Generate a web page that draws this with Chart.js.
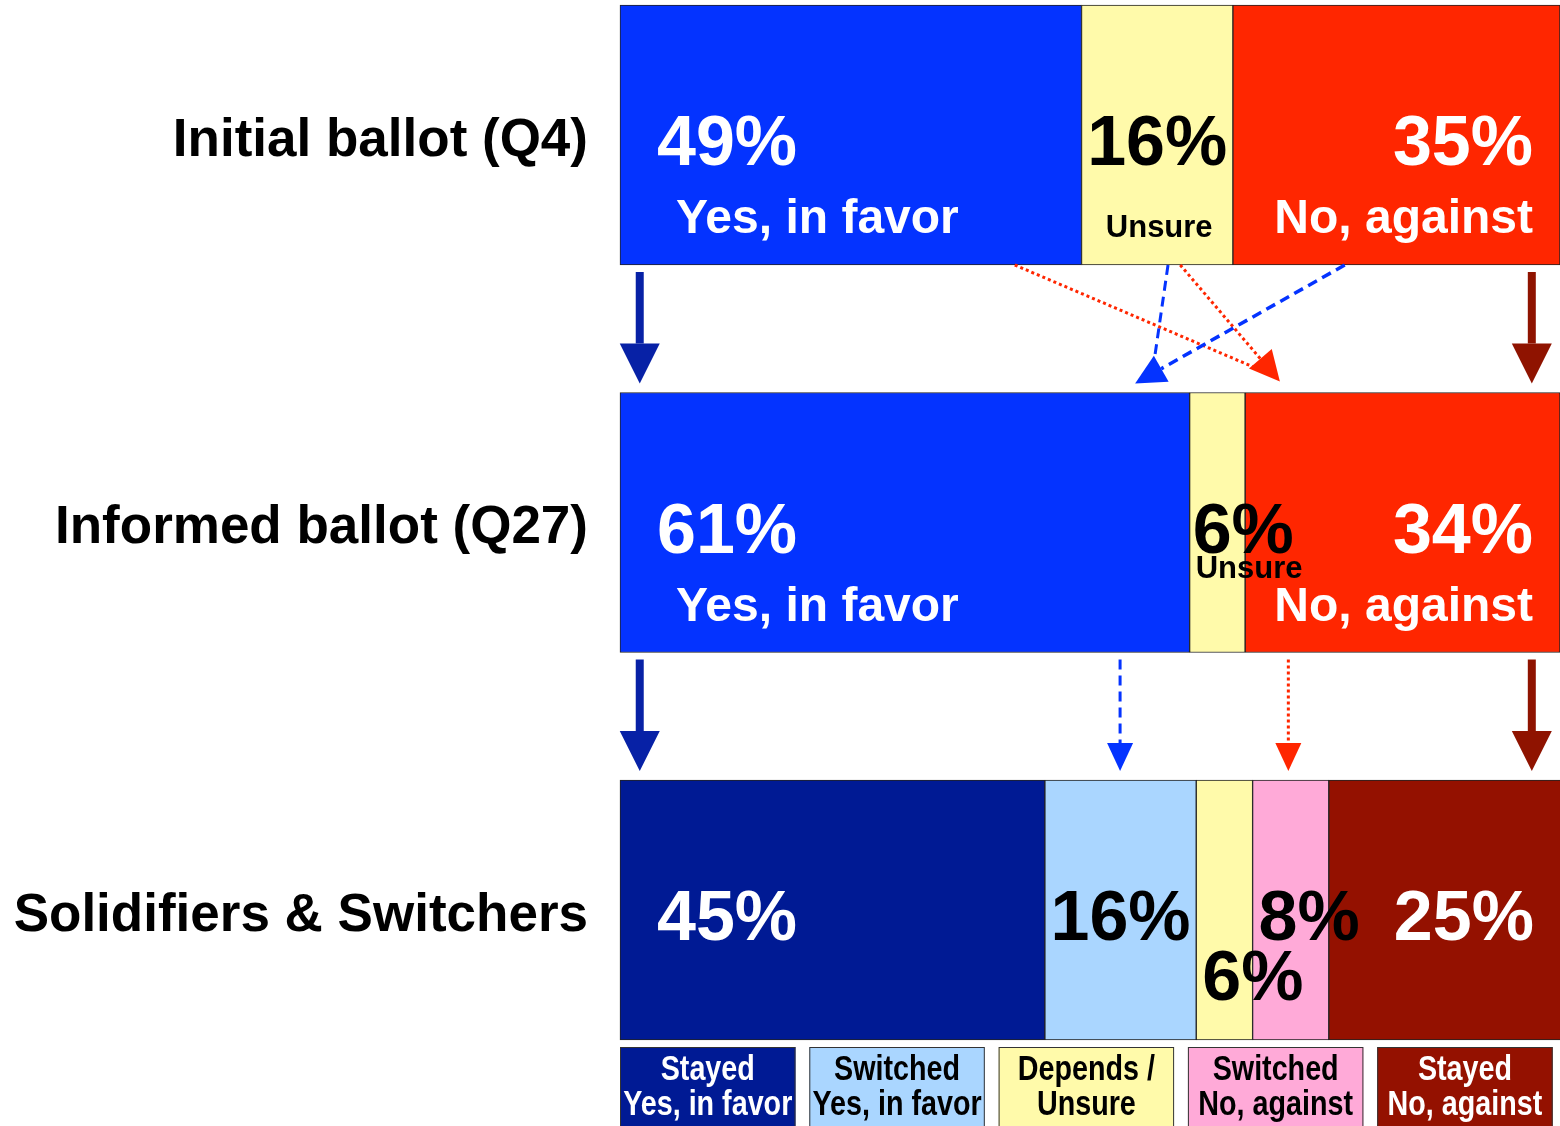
<!DOCTYPE html>
<html>
<head>
<meta charset="utf-8">
<script src="https://cdn.jsdelivr.net/npm/chart.js@4.4.1/dist/chart.umd.min.js"></script>
<style>
  html, body { margin: 0; padding: 0; background: #fff; }
  #wrap { width: 1560px; height: 1126px; position: relative; }
</style>
</head>
<body>
<div id="wrap"><canvas id="ballot"></canvas></div>
<script>
// ---------- DATA ----------
const categories = ['Initial ballot (Q4)', 'Informed ballot (Q27)', 'Solidifiers & Switchers'];

// rows 1 and 2
const yesValues = [49.1, 60.6, null];
const unsureValues = [16.1, 5.9, null];
const noValues = [34.8, 33.5, null];
const yesLabels = ['49%', '61%', null];
const unsureLabels = ['16%', '6%', null];
const noLabels = ['35%', '34%', null];

// row 3
const stayedYesValues = [null, null, 45.2];
const switchedYesValues = [null, null, 16.1];
const dependsValues = [null, null, 6.0];
const switchedNoValues = [null, null, 8.1];
const stayedNoValues = [null, null, 24.7];
const stayedYesLabels = [null, null, '45%'];
const switchedYesLabels = [null, null, '16%'];
const dependsLabels = [null, null, '6%'];
const switchedNoLabels = [null, null, '8%'];
const stayedNoLabels = [null, null, '25%'];

const legendLabels = [
  ['Stayed', 'Yes, in favor'],
  ['Switched', 'Yes, in favor'],
  ['Depends /', 'Unsure'],
  ['Switched', 'No, against'],
  ['Stayed', 'No, against'],
];

const FONT = '"Liberation Sans", Arial, Helvetica, sans-serif';

// ---------- LABELS PLUGIN ----------
const segmentLabels = {
  id: 'segmentLabels',
  afterDatasetsDraw(chart) {
    const ctx = chart.ctx;
    ctx.save();
    chart.data.datasets.forEach((ds, i) => {
      const meta = chart.getDatasetMeta(i);
      meta.data.forEach((bar, j) => {
        const text = ds.pctLabels[j];
        if (!text) return;
        const left = bar.base, right = bar.x, cy = bar.y;
        ctx.fillStyle = ds.textColor;
        ctx.font = 'bold 70px ' + FONT;
        ctx.textBaseline = 'alphabetic';
        const w = ctx.measureText(text).width;
        const py = cy + 30 + (ds.pctDrop || 0);
        let narrow = false;
        if (ds.align === 'start') {
          ctx.textAlign = 'left'; ctx.fillText(text, left + 37, py);
        } else if (ds.align === 'end') {
          ctx.textAlign = 'right'; ctx.fillText(text, right - 27, py);
        } else if (w > right - left - 4) {
          narrow = true;
          ctx.textAlign = 'left'; ctx.fillText(text, left + (j === 1 ? 3 : 6), py);
        } else {
          ctx.textAlign = 'center'; ctx.fillText(text, (left + right) / 2, py);
        }
        if (ds.sub && j < 2) {
          ctx.font = 'bold ' + ds.subSize + 'px ' + FONT;
          if (ds.align === 'start') {
            ctx.textAlign = 'left'; ctx.fillText(ds.sub, left + 56, cy + 98);
          } else if (ds.align === 'end') {
            ctx.textAlign = 'right'; ctx.fillText(ds.sub, right - 27, cy + 98);
          } else if (narrow) {
            ctx.textAlign = 'left'; ctx.fillText(ds.sub, left + 6, cy + 55);
          } else {
            ctx.textAlign = 'center'; ctx.fillText(ds.sub, (left + right) / 2 + 2, cy + 102);
          }
        }
      });
    });
    ctx.restore();
  }
};

// ---------- ARROWS PLUGIN ----------
function arrow(ctx, x1, y1, x2, y2, color, width, dash, headLen, headW) {
  const ang = Math.atan2(y2 - y1, x2 - x1);
  const bx = x2 - Math.cos(ang) * headLen, by = y2 - Math.sin(ang) * headLen;
  ctx.save();
  ctx.strokeStyle = color;
  ctx.fillStyle = color;
  ctx.lineWidth = width;
  ctx.setLineDash(dash);
  ctx.beginPath();
  ctx.moveTo(x1, y1);
  ctx.lineTo(bx, by);
  ctx.stroke();
  ctx.setLineDash([]);
  if (headLen > 0) {
    const nx = -Math.sin(ang) * headW / 2, ny = Math.cos(ang) * headW / 2;
    ctx.beginPath();
    ctx.moveTo(x2, y2);
    ctx.lineTo(bx + nx, by + ny);
    ctx.lineTo(bx - nx, by - ny);
    ctx.closePath();
    ctx.fill();
  }
  ctx.restore();
}

function dashedLine(ctx, x1, y1, x2, y2, color, width, dash) {
  arrow(ctx, x1, y1, x2, y2, color, width, dash, 0, 0);
}

const flowArrows = {
  id: 'flowArrows',
  afterDatasetsDraw(chart) {
    const ctx = chart.ctx;
    const xs = chart.scales.x, ys = chart.scales.y;
    const X = v => xs.getPixelForValue(v);
    const half = 130;
    const DKBLUE = '#0721a6', DKRED = '#8f1300', BLUE = '#0433ff', RED = '#ff2600';
    for (let r = 0; r < 2; r++) {
      const y0 = ys.getPixelForValue(r) + half;
      const y1 = ys.getPixelForValue(r + 1) - half;
      const top = y0 + 7, bot = y1 - 9;
      arrow(ctx, X(2.1), top, X(2.1), bot, DKBLUE, 8, [], 40, 40);
      arrow(ctx, X(97.0), top, X(97.0), bot, DKRED, 8, [], 40, 40);
      if (r === 0) {
        // switchers from the initial ballot
        dashedLine(ctx, X(42.0), y0, X(68.5), bot - 12, RED, 3, [3, 3]);
        arrow(ctx, X(59.6), y0, X(70.2), bot - 2, RED, 3, [3, 3], 30, 30);
        dashedLine(ctx, X(58.3), y0, X(56.6), bot - 8, BLUE, 3, [10, 6]);
        arrow(ctx, X(77.1), y0, X(54.8), bot, BLUE, 3.5, [10, 6], 30, 30);
      } else {
        arrow(ctx, X(53.2), top, X(53.2), bot, BLUE, 3, [10, 6], 28, 26);
        arrow(ctx, X(71.1), top, X(71.1), bot, RED, 3, [3, 3], 28, 26);
      }
    }
  }
};

// ---------- LEGEND PLUGIN ----------
const boxLegend = {
  id: 'boxLegend',
  afterDraw(chart) {
    const ctx = chart.ctx;
    const area = chart.chartArea;
    const sets = chart.data.datasets.slice(3);
    const boxW = 175.5, gap = 13.8, y = area.bottom + 137, h = 95;
    ctx.save();
    sets.forEach((ds, i) => {
      const x = area.left + i * (boxW + gap);
      ctx.fillStyle = ds.backgroundColor;
      ctx.fillRect(x, y, boxW, h);
      ctx.strokeStyle = '#333';
      ctx.lineWidth = 1;
      ctx.strokeRect(x + 0.5, y + 0.5, boxW - 1, h);
      ctx.fillStyle = ds.textColor;
      ctx.font = 'bold 35px ' + FONT;
      ctx.textAlign = 'center';
      ctx.textBaseline = 'middle';
      legendLabels[i].forEach((line, k) => {
        ctx.save();
        ctx.translate(x + boxW / 2, y + 23 + k * 35);
        ctx.scale(0.82, 1);
        ctx.fillText(line, 0, 0);
        ctx.restore();
      });
    });
    ctx.restore();
  }
};

// ---------- CHART ----------
const common = { borderColor: '#222', borderWidth: 1, borderSkipped: false, barThickness: 260, clip: false };

const ctx = document.getElementById('ballot').getContext('2d');
const ballotChart = new Chart(ctx, {
  type: 'bar',
  data: {
    labels: categories,
    datasets: [
      { ...common, label: 'Yes, in favor', data: yesValues, backgroundColor: '#0433ff', textColor: '#fff', pctLabels: yesLabels, align: 'start', sub: 'Yes, in favor', subSize: 48 },
      { ...common, label: 'Unsure', data: unsureValues, backgroundColor: '#fffaaa', textColor: '#000', pctLabels: unsureLabels, align: 'middle', sub: 'Unsure', subSize: 31 },
      { ...common, label: 'No, against', data: noValues, backgroundColor: '#ff2600', textColor: '#fff', pctLabels: noLabels, align: 'end', sub: 'No, against', subSize: 48 },
      { ...common, label: 'Stayed Yes, in favor', data: stayedYesValues, backgroundColor: '#001a94', textColor: '#fff', pctLabels: stayedYesLabels, align: 'start' },
      { ...common, label: 'Switched Yes, in favor', data: switchedYesValues, backgroundColor: '#aad6ff', textColor: '#000', pctLabels: switchedYesLabels, align: 'middle' },
      { ...common, label: 'Depends / Unsure', data: dependsValues, backgroundColor: '#fffaaa', textColor: '#000', pctLabels: dependsLabels, align: 'middle', pctDrop: 60 },
      { ...common, label: 'Switched No, against', data: switchedNoValues, backgroundColor: '#ffaad8', textColor: '#000', pctLabels: switchedNoLabels, align: 'middle' },
      { ...common, label: 'Stayed No, against', data: stayedNoValues, backgroundColor: '#941100', textColor: '#fff', pctLabels: stayedNoLabels, align: 'end' },
    ],
  },
  options: {
    indexAxis: 'y',
    responsive: true,
    maintainAspectRatio: false,
    animation: false,
    layout: {
      padding: { top: 135, bottom: 216, left: 0, right: 0 },
    },
    plugins: {
      legend: { display: false },
      tooltip: { enabled: false },
    },
    scales: {
      x: {
        stacked: true,
        min: 0,
        max: 100,
        display: false,
      },
      y: {
        stacked: true,
        offset: false,
        grid: { display: false },
        border: { display: false },
        afterFit(scale) { scale.width = 620; },
        ticks: {
          padding: 24,
          labelOffset: 6,
          color: '#000',
          font: { family: FONT, size: 53, weight: 'bold' },
        },
      },
    },
  },
  plugins: [segmentLabels, flowArrows, boxLegend],
});
</script>
</body>
</html>
